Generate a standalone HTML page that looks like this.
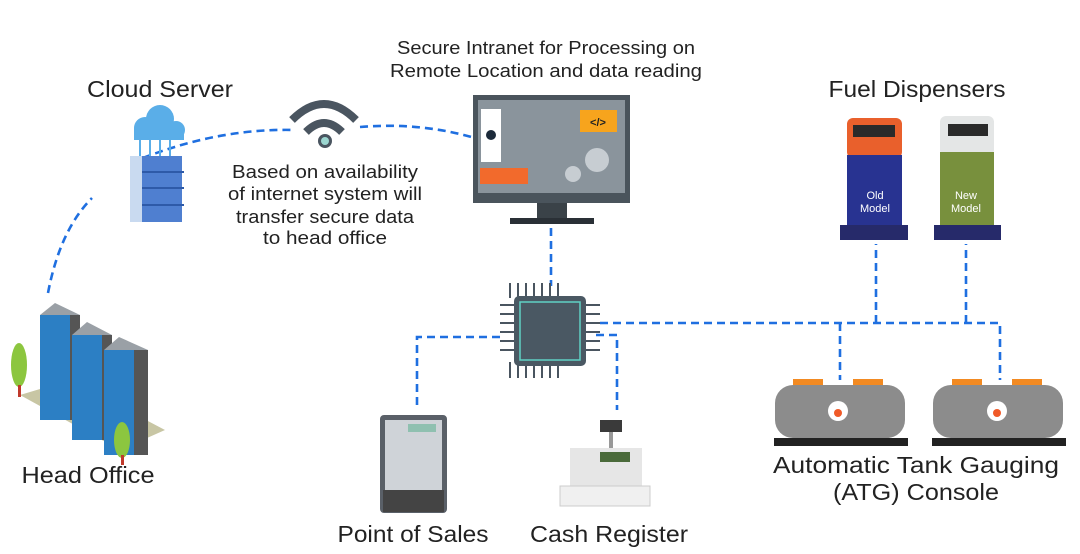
<!DOCTYPE html>
<html><head><meta charset="utf-8"><style>
html,body{margin:0;padding:0;background:#fff;}
svg{display:block;}
text{font-family:"Liberation Sans",sans-serif;fill:#222;}
</style></head><body>
<svg width="1080" height="554" viewBox="0 0 1080 554">
<g fill="none" stroke="#1f6fe0" stroke-width="2.6" stroke-dasharray="8,5">
<path d="M48,293 Q60,230 92,198"/>
<path d="M143,158 Q220,128 295,130"/>
<path d="M360,127 Q420,122 475,138"/>
<path d="M551,228 V286"/>
<path d="M500,337 H417 V410"/>
<path d="M596,335 H617 V410"/>
<path d="M600,323 H1000 V380"/>
<path d="M840,323 V380"/>
<path d="M876,323 V244"/>
<path d="M966,323 V244"/>
</g>
<g text-anchor="middle" lengthAdjust="spacingAndGlyphs">
<text x="546" y="54" font-size="18" textLength="298" lengthAdjust="spacingAndGlyphs">Secure Intranet for Processing on</text>
<text x="546" y="77" font-size="18" textLength="312" lengthAdjust="spacingAndGlyphs">Remote Location and data reading</text>
<text x="160" y="97" font-size="23" textLength="146" lengthAdjust="spacingAndGlyphs">Cloud Server</text>
<text x="917" y="97" font-size="23" textLength="177" lengthAdjust="spacingAndGlyphs">Fuel Dispensers</text>
<text x="325" y="178" font-size="18" textLength="186" lengthAdjust="spacingAndGlyphs">Based on availability</text>
<text x="325" y="200" font-size="18" textLength="194" lengthAdjust="spacingAndGlyphs">of internet system will</text>
<text x="325" y="223" font-size="18" textLength="178" lengthAdjust="spacingAndGlyphs">transfer secure data</text>
<text x="325" y="244" font-size="18" textLength="124" lengthAdjust="spacingAndGlyphs">to head office</text>
<text x="88" y="483" font-size="23" textLength="133" lengthAdjust="spacingAndGlyphs">Head Office</text>
<text x="413" y="542" font-size="23" textLength="151" lengthAdjust="spacingAndGlyphs">Point of Sales</text>
<text x="609" y="542" font-size="23" textLength="158" lengthAdjust="spacingAndGlyphs">Cash Register</text>
<text x="916" y="473" font-size="23" textLength="286" lengthAdjust="spacingAndGlyphs">Automatic Tank Gauging</text>
<text x="916" y="500" font-size="23" textLength="166" lengthAdjust="spacingAndGlyphs">(ATG) Console</text>
</g>
<g>
<circle cx="145" cy="128" r="11" fill="#5aaee8"/><circle cx="160" cy="119" r="14" fill="#5aaee8"/><circle cx="176" cy="130" r="9" fill="#5aaee8"/>
<rect x="134" y="128" width="50" height="12" fill="#5aaee8"/>
<g stroke="#5aaee8" stroke-width="2"><path d="M140,140V158M150,140V158M160,140V158M170,140V158"/></g>
<rect x="130" y="156" width="12" height="66" fill="#c9daf0"/>
<rect x="142" y="156" width="40" height="66" fill="#4f7fd0"/>
<g stroke="#2e5aa8" stroke-width="2"><path d="M142,172H184M142,188H184M142,205H184"/></g>
</g>
<g fill="none" stroke="#4a5560" stroke-width="8">
<path d="M292,120 Q324,88 356,120"/><path d="M306,132 Q324,114 342,132"/>
</g>
<circle cx="325" cy="141" r="7" fill="#4a5560"/><circle cx="325" cy="141" r="4" fill="#9bd6d0"/>
<rect x="473" y="95" width="157" height="108" fill="#4a545c"/>
<rect x="478" y="100" width="147" height="93" fill="#8a949c"/>
<rect x="481" y="109" width="20" height="53" fill="#fff"/><circle cx="491" cy="135" r="5" fill="#1c2a3a"/>
<rect x="580" y="110" width="37" height="22" fill="#f7a41d"/>
<text x="598" y="126" font-size="11" text-anchor="middle" font-weight="bold">&lt;/&gt;</text>
<rect x="480" y="168" width="48" height="16" fill="#f26a2c"/>
<circle cx="597" cy="160" r="12" fill="#c7cdd2"/><circle cx="573" cy="174" r="8" fill="#c7cdd2"/>
<rect x="537" y="203" width="30" height="16" fill="#3a4248"/>
<rect x="510" y="218" width="84" height="6" fill="#2a3036"/>
<g stroke="#4a5560" stroke-width="2"><path d="M510,283V298M518,283V298M526,283V298M534,283V298M542,283V298M550,283V298M558,283V298M510,362V378M518,362V378M526,362V378M534,362V378M542,362V378M550,362V378M558,362V378M500,305H516M500,314H516M500,323H516M500,332H516M500,341H516M500,350H516M585,305H600M585,314H600M585,323H600M585,332H600M585,341H600M585,350H600"/></g>
<rect x="514" y="296" width="72" height="70" rx="5" fill="#4a5863"/>
<rect x="520" y="302" width="60" height="58" fill="none" stroke="#5fd1c4" stroke-width="1.5"/>
<rect x="847" y="118" width="55" height="40" rx="6" fill="#e9602c"/><rect x="847" y="155" width="55" height="70" fill="#283391"/>
<rect x="853" y="125" width="42" height="12" fill="#2a2a2a"/>
<rect x="840" y="225" width="68" height="15" fill="#262a6a"/>
<text x="875" y="199" font-size="11" text-anchor="middle" style="fill:#fff">Old</text>
<text x="875" y="212" font-size="11" text-anchor="middle" style="fill:#fff">Model</text>
<rect x="940" y="116" width="54" height="40" rx="6" fill="#e4e6e6"/><rect x="940" y="152" width="54" height="73" fill="#78903d"/>
<rect x="948" y="124" width="40" height="12" fill="#2a2a2a"/>
<rect x="934" y="225" width="67" height="15" fill="#262a6a"/>
<text x="966" y="199" font-size="11" text-anchor="middle" style="fill:#fff">New</text>
<text x="966" y="212" font-size="11" text-anchor="middle" style="fill:#fff">Model</text>
<g>
<rect x="793" y="379" width="30" height="7" fill="#f28a22"/><rect x="853" y="379" width="30" height="7" fill="#f28a22"/>
<rect x="775" y="385" width="130" height="53" rx="18" fill="#8c8c8c"/>
<rect x="774" y="438" width="134" height="8" fill="#222"/>
<circle cx="838" cy="411" r="10" fill="#fff"/><circle cx="838" cy="413" r="4" fill="#f05a28"/>
<rect x="952" y="379" width="30" height="7" fill="#f28a22"/><rect x="1012" y="379" width="30" height="7" fill="#f28a22"/>
<rect x="933" y="385" width="130" height="53" rx="18" fill="#8c8c8c"/>
<rect x="932" y="438" width="134" height="8" fill="#222"/>
<circle cx="997" cy="411" r="10" fill="#fff"/><circle cx="997" cy="413" r="4" fill="#f05a28"/>
</g>
<rect x="380" y="415" width="67" height="98" rx="4" fill="#5a6068"/>
<rect x="385" y="420" width="57" height="70" fill="#cfd3d8"/>
<rect x="408" y="424" width="28" height="8" fill="#8fc0b0"/>
<rect x="383" y="490" width="61" height="22" fill="#444"/>
<rect x="600" y="420" width="22" height="12" fill="#3a3a3a"/><rect x="609" y="432" width="4" height="18" fill="#999"/>
<rect x="570" y="448" width="72" height="40" fill="#e6e6e6"/>
<rect x="600" y="452" width="30" height="10" fill="#4a6a3a"/>
<rect x="560" y="486" width="90" height="20" fill="#f0f0f0" stroke="#ccc"/>
<polygon points="20,395 120,450 165,430 70,380" fill="#c8c6a4"/>
<g>
<rect x="40" y="315" width="30" height="105" fill="#2c7fc4"/><rect x="70" y="315" width="10" height="105" fill="#555"/>
<rect x="72" y="335" width="30" height="105" fill="#2c7fc4"/><rect x="102" y="335" width="10" height="105" fill="#555"/>
<rect x="104" y="350" width="30" height="105" fill="#2c7fc4"/><rect x="134" y="350" width="14" height="105" fill="#555"/>
<polygon points="40,315 55,303 80,315 70,315" fill="#9aa0a6"/>
<polygon points="72,335 87,322 112,335" fill="#9aa0a6"/>
<polygon points="104,350 119,337 148,350" fill="#9aa0a6"/>
</g>
<ellipse cx="19" cy="365" rx="8" ry="22" fill="#8cc63f"/><rect x="18" y="385" width="3" height="12" fill="#c0392b"/>
<ellipse cx="122" cy="440" rx="8" ry="18" fill="#8cc63f"/><rect x="121" y="455" width="3" height="10" fill="#c0392b"/>
</svg>
</body></html>
